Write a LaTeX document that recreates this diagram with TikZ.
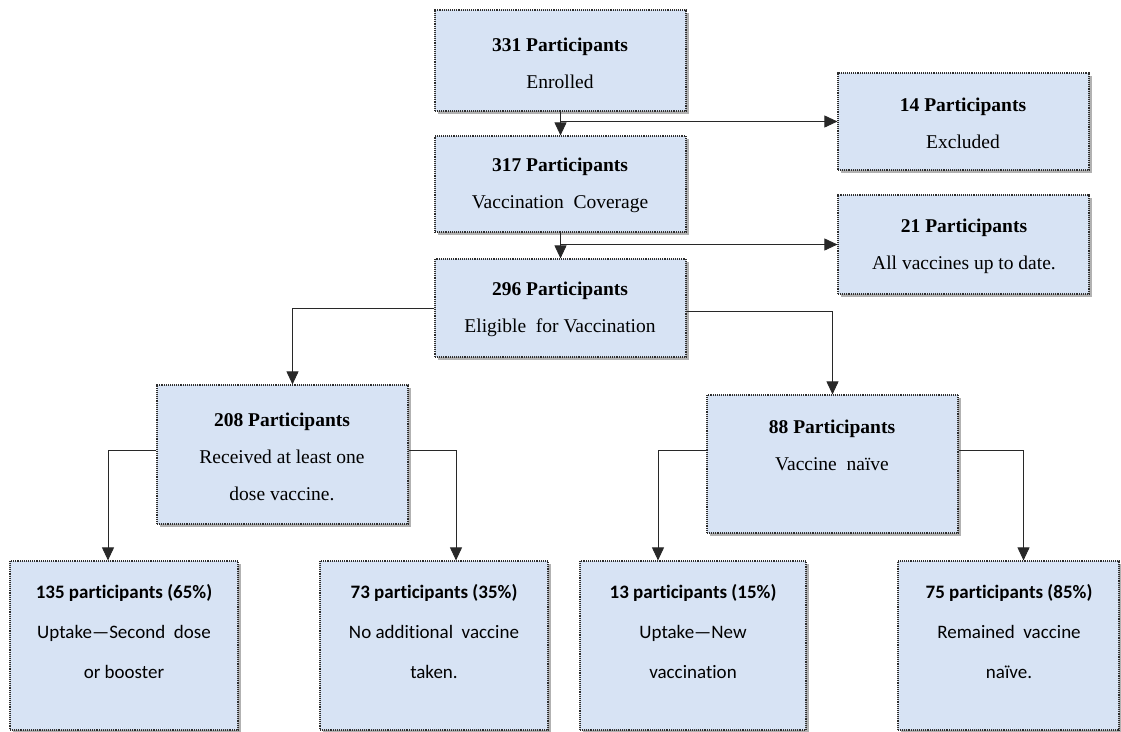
\documentclass[tikz,border=0pt]{standalone}
\usepackage{fontspec}
\setmainfont{Liberation Serif}
\newfontfamily\upfont{Liberation Serif}
\newfontfamily\calib[Ligatures=NoCommon]{Carlito}
\usetikzlibrary{arrows.meta,shadows,calc}
\definecolor{boxblue}{RGB}{215,227,244}
\definecolor{edgegray}{RGB}{45,45,45}
\definecolor{conngray}{RGB}{40,40,40}
\begin{document}
\begin{tikzpicture}[x=1pt,y=-1pt,
  box/.style={draw=edgegray, line width=1.2pt, dash pattern=on 1pt off 0.9pt,
    fill=boxblue, inner sep=0pt,
    drop shadow={shadow xshift=3pt, shadow yshift=-3pt, fill=black, opacity=0.3}},
  upper/.style={align=center, font=\upfont\fontsize{19.5}{37}\selectfont},
  lower/.style={align=center, font=\calib\fontsize{19}{40}\selectfont},
  conn/.style={draw=conngray, line width=0.9pt, -{Triangle[length=13pt,width=12pt]}}]
\fill[white] (0,0) rectangle (1121,731);
\useasboundingbox (0,0) rectangle (1121,731);
% boxes
\node[box, minimum width=251pt, minimum height=101pt] (b331) at (560.5,60.5) {};
\node[box, minimum width=251pt, minimum height=97pt]  (b14)  at (963.5,121.5) {};
\node[box, minimum width=251pt, minimum height=96pt]  (b317) at (560.5,184) {};
\node[box, minimum width=251pt, minimum height=99pt]  (b21)  at (963.5,244.5) {};
\node[box, minimum width=251pt, minimum height=98pt]  (b296) at (560.5,308) {};
\node[box, minimum width=251pt, minimum height=139pt] (b208) at (282.5,454.5) {};
\node[box, minimum width=251pt, minimum height=138pt] (b88)  at (832.5,464) {};
\node[box, minimum width=228pt, minimum height=169pt] (b135) at (124,645.5) {};
\node[box, minimum width=228pt, minimum height=169pt] (b73)  at (434,645.5) {};
\node[box, minimum width=226pt, minimum height=169pt] (b13)  at (693,645.5) {};
\node[box, minimum width=221pt, minimum height=169pt] (b75)  at (1008.5,645.5) {};
% texts
\node[upper] (t331) at (560,63.5) {\textbf{331 Participants}\\Enrolled};
\node[upper] (t14)  at (963,123) {\textbf{14 Participants}\\Excluded};
\node[upper] (t317) at (560,185) {\textbf{317 Participants}\\Vaccination\ \ Coverage};
\node[upper] (t21)  at (964,246) {\textbf{21 Participants}\\All vaccines up to date.};
\node[upper] (t296) at (560,309) {\textbf{296 Participants}\\Eligible\ \ for\ Vaccination};
\node[upper] (t208) at (282,457) {\textbf{208 Participants}\\Received at least one\\dose vaccine.};
\node[upper] (t88)  at (832,445) {\textbf{88 Participants}\\Vaccine\ \ naïve};
\node[lower] (t135) at (124,632) {\textbf{135 participants (65\%)}\\Uptake—Second\ \ dose\\or booster};
\node[lower] (t73)  at (434,632) {\textbf{73 participants (35\%)}\\No additional\ \ vaccine\\taken.};
\node[lower] (t13)  at (693,632) {\textbf{13 participants (15\%)}\\Uptake—New\\vaccination};
\node[lower] (t75)  at (1009,632) {\textbf{75 participants (85\%)}\\Remained\ \ vaccine\\naïve.};
% connectors
\draw[conn] (b331.south) -- (b317.north);
\draw[conn] (b331.south |- b14.west) -- (b14.west);
\draw[conn] (b317.south) -- (b296.north);
\draw[conn] (b317.south |- b21.west) -- (b21.west);
\coordinate (c208) at ([xshift=10pt]b208.north);
\draw[conn] (b296.west) -| (c208);
\draw[conn] ([yshift=-3pt]b296.east) -| (b88.north);
\coordinate (c135) at ([xshift=-16pt]b135.north);
\coordinate (c73) at ([xshift=22pt]b73.north);
\coordinate (c13) at ([xshift=-35pt]b13.north);
\coordinate (c75) at ([xshift=15pt]b75.north);
\draw[conn] ([yshift=4.5pt]b208.west) -| (c135);
\draw[conn] ([yshift=4.5pt]b208.east) -| (c73);
\draw[conn] ([yshift=14pt]b88.west) -| (c13);
\draw[conn] ([yshift=14pt]b88.east) -| (c75);
\end{tikzpicture}
\end{document}
